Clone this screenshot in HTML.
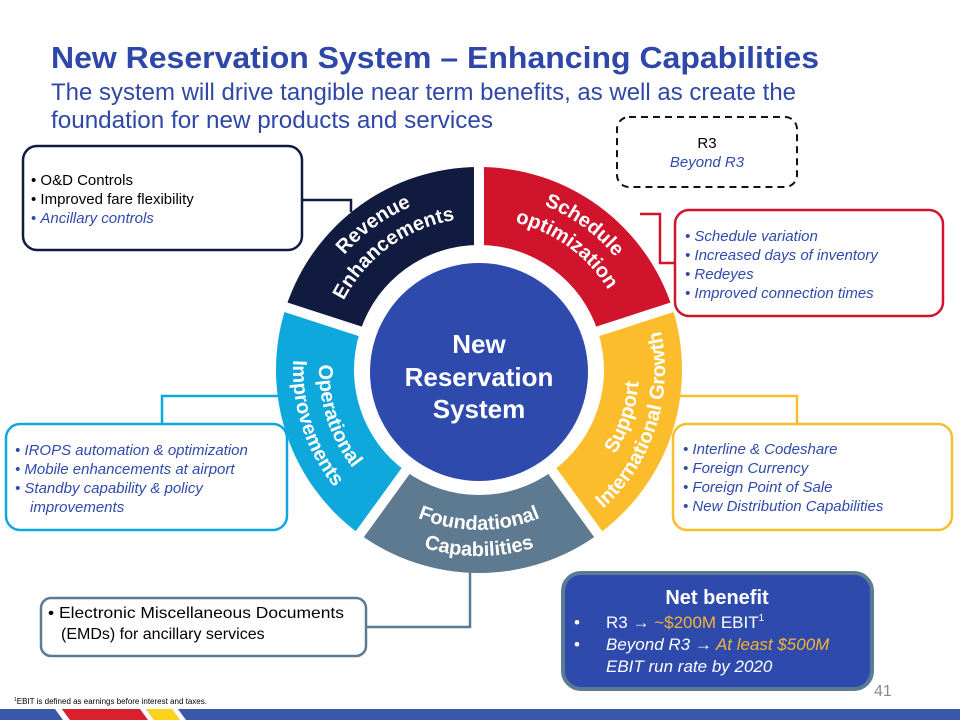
<!DOCTYPE html>
<html><head><meta charset="utf-8"><style>
html,body{margin:0;padding:0;background:#fff;}
svg{display:block;font-family:"Liberation Sans",Arial,sans-serif;}
</style></head><body>
<svg width="960" height="720" viewBox="0 0 960 720" xmlns="http://www.w3.org/2000/svg">
<!-- Title -->
<text x="51" y="68" font-size="31" font-weight="bold" fill="#2e47a8" textLength="768" lengthAdjust="spacingAndGlyphs">New Reservation System – Enhancing Capabilities</text>
<text x="51" y="100" font-size="24" fill="#2e47a8" textLength="745" lengthAdjust="spacingAndGlyphs">The system will drive tangible near term benefits, as well as create the</text>
<text x="51" y="128" font-size="24" fill="#2e47a8" textLength="442" lengthAdjust="spacingAndGlyphs">foundation for new products and services</text>

<!-- connectors -->
<g fill="none" stroke-width="2.5">
<polyline points="302,200 351,200 351,212" stroke="#111a3f"/>
<polyline points="675,263 660,263 660,214 640,214" stroke="#d0142c"/>
<polyline points="162,424 162,396 280,396" stroke="#0ea8dc"/>
<polyline points="797,424 797,396 680,396" stroke="#fbbd2b"/>
<polyline points="366,627 470,627 470,570" stroke="#5b7a93"/>
</g>

<!-- ring -->
<path d="M672.1,307.3 A203,203 0 0 0 479,167 L479,245 A125,125 0 0 1 597.9,331.4 Z" fill="#d0142c"/>
<path d="M479,167 A203,203 0 0 0 285.9,307.3 L360.1,331.4 A125,125 0 0 1 479,245 Z" fill="#111a3f"/>
<path d="M285.9,307.3 A203,203 0 0 0 359.7,534.2 L405.5,471.1 A125,125 0 0 1 360.1,331.4 Z" fill="#0ea8dc"/>
<path d="M359.7,534.2 A203,203 0 0 0 598.3,534.2 L552.5,471.1 A125,125 0 0 1 405.5,471.1 Z" fill="#5d7a91"/>
<path d="M598.3,534.2 A203,203 0 0 0 672.1,307.3 L597.9,331.4 A125,125 0 0 1 552.5,471.1 Z" fill="#fbbd2b"/>
<g stroke="#fff" stroke-width="10">
<line x1="479" y1="250" x2="479" y2="160"/>
<line x1="593.1" y1="332.9" x2="678.7" y2="305.1"/>
<line x1="364.9" y1="332.9" x2="279.3" y2="305.1"/>
<line x1="408.5" y1="467.1" x2="355.6" y2="539.9"/>
<line x1="549.5" y1="467.1" x2="602.4" y2="539.9"/>
</g>
<circle cx="479" cy="372" r="109" fill="#2f4aad"/>
<text font-size="26" font-weight="bold" fill="#fff" text-anchor="middle">
<tspan x="479" y="353">New</tspan><tspan x="479" y="386">Reservation</tspan><tspan x="479" y="418">System</tspan></text>

<defs>
<path id="revO" d="M310.7,315.3 A177,177 0 0 1 479,193"/>
<path id="revI" d="M334.4,323 A152,152 0 0 1 479,218"/>
<path id="schO" d="M479,193 A177,177 0 0 1 647.3,315.3"/>
<path id="schI" d="M479,218 A152,152 0 0 1 623.6,323"/>
<path id="opI" d="M326.8,320.6 A160,160 0 0 0 385,499.4"/>
<path id="opO" d="M302.1,312.5 A186,186 0 0 0 369.7,520.5"/>
<path id="fdI" d="M385,499.4 A160,160 0 0 0 573,499.4"/>
<path id="fdO" d="M369.7,520.5 A186,186 0 0 0 588.3,520.5"/>
<path id="spI" d="M573,499.4 A160,160 0 0 0 631.2,320.6"/>
<path id="spO" d="M588.3,520.5 A186,186 0 0 0 655.9,312.5"/>
</defs>
<g font-size="20" font-weight="bold" fill="#fff" text-anchor="middle">
<text><textPath href="#revO" startOffset="50%">Revenue</textPath></text>
<text><textPath href="#revI" startOffset="50%">Enhancements</textPath></text>
<text><textPath href="#schO" startOffset="50%">Schedule</textPath></text>
<text><textPath href="#schI" startOffset="50%">optimization</textPath></text>
<text><textPath href="#opI" startOffset="50%">Operational</textPath></text>
<text><textPath href="#opO" startOffset="50%">Improvements</textPath></text>
<text><textPath href="#fdI" startOffset="50%">Foundational</textPath></text>
<text><textPath href="#fdO" startOffset="50%">Capabilities</textPath></text>
<text><textPath href="#spI" startOffset="50%">Support</textPath></text>
<text><textPath href="#spO" startOffset="50%">International Growth</textPath></text>
</g>

<!-- boxes -->
<rect x="23" y="146" width="279" height="104" rx="14" fill="#fff" stroke="#111a3f" stroke-width="2.5"/>
<g font-size="15">
<text x="31" y="185" fill="#000">•  O&amp;D Controls</text>
<text x="31" y="204" fill="#000">•  Improved fare flexibility</text>
<text x="31" y="223" fill="#2f4aad"><tspan>•  </tspan><tspan font-style="italic">Ancillary controls</tspan></text>
</g>

<rect x="6" y="424" width="281" height="106" rx="14" fill="#fff" stroke="#0ea8dc" stroke-width="2.5"/>
<g font-size="15" fill="#2f4aad" font-style="italic">
<text x="15" y="455">•  IROPS automation &amp; optimization</text>
<text x="15" y="474">•  Mobile enhancements at airport</text>
<text x="15" y="493">•  Standby capability &amp; policy</text>
<text x="30" y="512">improvements</text>
</g>

<rect x="617" y="117" width="180" height="70" rx="12" fill="none" stroke="#111" stroke-width="2" stroke-dasharray="7,5"/>
<text x="707" y="148" font-size="15" fill="#000" text-anchor="middle">R3</text>
<text x="707" y="167" font-size="15" fill="#2f4aad" font-style="italic" text-anchor="middle">Beyond R3</text>

<rect x="675" y="210" width="268" height="106" rx="14" fill="#fff" stroke="#d0142c" stroke-width="2.5"/>
<g font-size="15" fill="#2f4aad" font-style="italic">
<text x="685" y="241">•  Schedule variation</text>
<text x="685" y="260">•  Increased days of inventory</text>
<text x="685" y="279">•  Redeyes</text>
<text x="685" y="298">•  Improved connection times</text>
</g>

<rect x="673" y="424" width="279" height="106" rx="14" fill="#fff" stroke="#fbbd2b" stroke-width="2.5"/>
<g font-size="15" fill="#2f4aad" font-style="italic">
<text x="683" y="454">•  Interline &amp; Codeshare</text>
<text x="683" y="473">•  Foreign Currency</text>
<text x="683" y="492">•  Foreign Point of Sale</text>
<text x="683" y="511">•  New Distribution Capabilities</text>
</g>

<rect x="41" y="598" width="325" height="58" rx="10" fill="#fff" stroke="#5b7a93" stroke-width="2.5"/>
<g font-size="16" fill="#000">
<text x="48" y="618" textLength="296" lengthAdjust="spacingAndGlyphs">• Electronic Miscellaneous Documents</text>
<text x="61" y="639">(EMDs) for ancillary services</text>
</g>

<rect x="563" y="573" width="309" height="116" rx="18" fill="#2f4aad" stroke="#5b7a93" stroke-width="4"/>
<text x="717" y="604" font-size="20" font-weight="bold" fill="#fff" text-anchor="middle">Net benefit</text>
<g font-size="17" fill="#fff">
<text x="574" y="628">•</text>
<text x="606" y="628">R3 → <tspan fill="#f5b335">~$200M</tspan> EBIT<tspan font-size="10" dy="-7">1</tspan></text>
<text x="574" y="650">•</text>
<text x="606" y="650" font-style="italic">Beyond R3 → <tspan fill="#f5b335">At least $500M</tspan></text>
<text x="606" y="672" font-style="italic">EBIT run rate by 2020</text>
</g>

<text x="874" y="696" font-size="16" fill="#8a8a8a">41</text>
<text x="14" y="704" font-size="8" fill="#000"><tspan font-size="5" dy="-3">1</tspan><tspan dy="3">EBIT is defined as earnings before interest and taxes.</tspan></text>

<!-- footer stripe -->
<rect x="0" y="709" width="960" height="11" fill="#3a57a8"/>
<polygon points="55,709 62,709 70,720 63,720" fill="#fff"/>
<polygon points="62,709 140,709 148,720 70,720" fill="#d8202e"/>
<polygon points="140,709 146,709 154,720 148,720" fill="#fff"/>
<polygon points="146,709 172,709 180,720 154,720" fill="#fcd21c"/>
<polygon points="172,709 178,709 186,720 180,720" fill="#fff"/>
</svg>
</body></html>
